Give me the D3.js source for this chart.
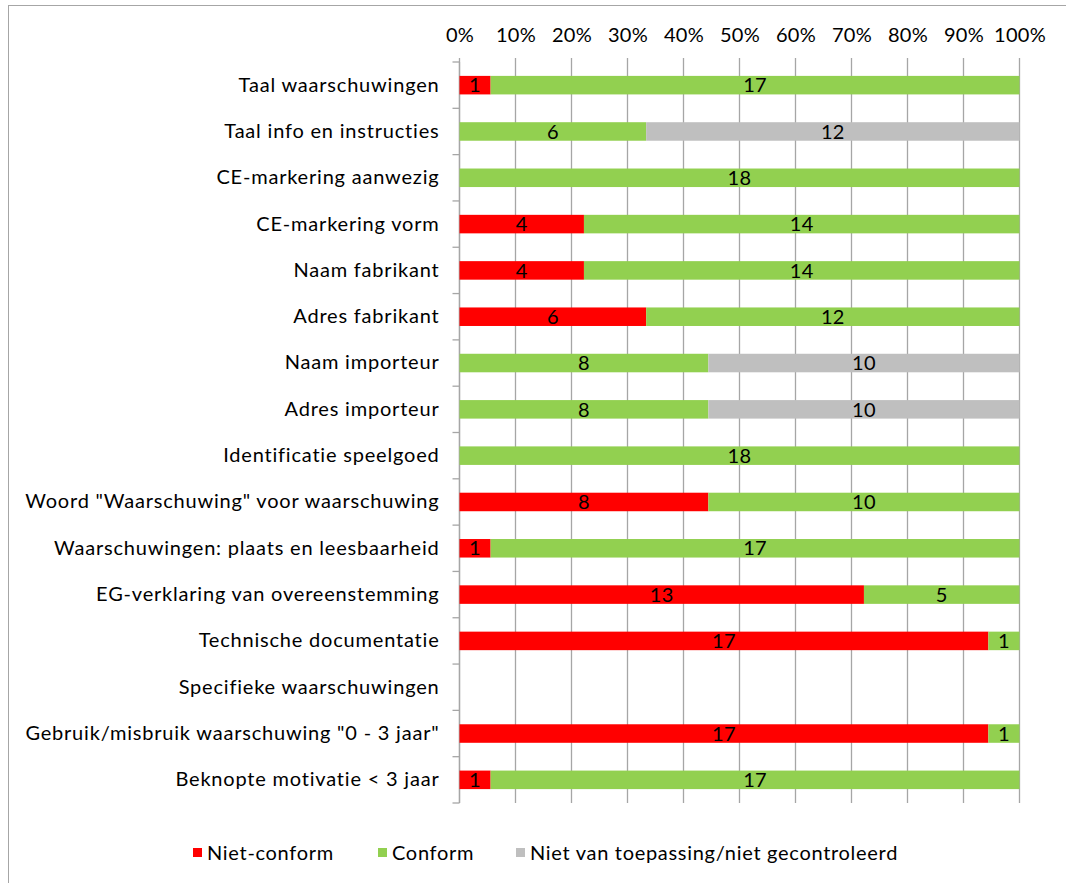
<!DOCTYPE html>
<html><head><meta charset="utf-8">
<script src="https://cdn.jsdelivr.net/npm/d3@7"></script>
<style>body{margin:0;background:#fff;}svg{display:block;font-family:Lato,"Open Sans",sans-serif;}</style>
</head><body>
<svg id="c" width="1066" height="883"></svg>
<script>
const categories = ["Taal waarschuwingen","Taal info en instructies","CE-markering aanwezig","CE-markering vorm","Naam fabrikant","Adres fabrikant","Naam importeur","Adres importeur","Identificatie speelgoed","Woord \"Waarschuwing\" voor waarschuwing","Waarschuwingen: plaats en leesbaarheid","EG-verklaring van overeenstemming","Technische documentatie","Specifieke waarschuwingen","Gebruik/misbruik waarschuwing \"0 - 3 jaar\"","Beknopte motivatie < 3 jaar"];
const nietConform = [1,0,0,4,4,6,0,0,0,8,1,13,17,0,17,1];
const conform     = [17,6,18,14,14,12,8,8,18,10,17,5,1,0,1,17];
const nietVanToepassing = [0,12,0,0,0,0,10,10,0,0,0,0,0,0,0,0];
const seriesNames = ["Niet-conform","Conform","Niet van toepassing/niet gecontroleerd"];
const seriesColors = ["#FF0000","#92D050","#BFBFBF"];
const tickValues = [0,0.1,0.2,0.3,0.4,0.5,0.6,0.7,0.8,0.9,1];

const svg = d3.select("#c");
const W=1066,H=883;
const L=459.5,R=1019.5,T=62,B=803;
const fs=20;

svg.append("rect").attr("x",8.5).attr("y",5.5).attr("width",W+20).attr("height",H+20)
  .attr("fill","none").attr("stroke","#a6a6a6").attr("stroke-width",1);

const x=d3.scaleLinear().domain([0,1]).range([L,R]);
const y=d3.scaleBand().domain(categories).range([T,B]).paddingInner(0.6).paddingOuter(0.3);
const yb=d3.scaleBand().domain(categories).range([T,B]);

// grid
svg.append("g").selectAll("line").data(tickValues).join("line")
  .attr("x1",d=>x(d)).attr("x2",d=>x(d)).attr("y1",T-4).attr("y2",B)
  .attr("stroke","#a6a6a6").attr("stroke-width",1.3);

// top axis labels
const xa=d3.axisTop(x).tickValues(tickValues).tickFormat(d3.format(".0%")).tickSize(0).tickPadding(0);
const gx=svg.append("g").attr("transform",`translate(0,42)`).call(xa);
gx.select(".domain").remove();
gx.selectAll("text").attr("font-size",fs).attr("font-family","Lato").attr("fill","#000")
  .attr("dy",0).attr("letter-spacing","0.3px");

// left axis
const ya=d3.axisLeft(yb).tickSize(0).tickPadding(20);
const gy=svg.append("g").attr("transform",`translate(${L},0)`).call(ya);
gy.select(".domain").remove();
gy.selectAll("text").attr("font-size",fs).attr("font-family","Lato").attr("fill","#000").attr("letter-spacing","0.8px");
svg.append("line").attr("x1",L).attr("x2",L).attr("y1",T).attr("y2",B).attr("stroke","#a6a6a6").attr("stroke-width",1.3);
const bounds=categories.map(c=>yb(c)).concat([B]);
svg.append("g").selectAll("line").data(bounds).join("line")
  .attr("x1",L-7).attr("x2",L).attr("y1",d=>d).attr("y2",d=>d).attr("stroke","#a6a6a6").attr("stroke-width",1.3);

// stacked data
const rows=categories.map((c,i)=>({cat:c,a:nietConform[i],b:conform[i],c:nietVanToepassing[i]}));
const stack=d3.stack().keys(["a","b","c"]).offset(d3.stackOffsetExpand);
const stacked=stack(rows);
const g=svg.append("g");
stacked.forEach((s,si)=>{
  const gs=g.append("g").attr("fill",seriesColors[si]);
  gs.selectAll("rect").data(s.filter(d=>d.data[s.key]>0)).join("rect")
    .attr("x",d=>x(d[0])).attr("width",d=>x(d[1])-x(d[0]))
    .attr("y",d=>y(d.data.cat)).attr("height",y.bandwidth());
});
stacked.forEach((s,si)=>{
  g.append("g").selectAll("text").data(s.filter(d=>d.data[s.key]>0)).join("text")
    .attr("x",d=>(x(d[0])+x(d[1]))/2).attr("y",d=>y(d.data.cat)+y.bandwidth()/2)
    .attr("dy","0.36em").attr("text-anchor","middle").attr("font-size",fs).attr("fill","#000")
    .attr("letter-spacing","0.3px")
    .text(d=>d.data[s.key]);
});

// legend
const legX=[193,378,516];
const lg=svg.append("g");
seriesNames.forEach((n,i)=>{
  lg.append("rect").attr("x",legX[i]).attr("y",848).attr("width",9).attr("height",9).attr("fill",seriesColors[i]);
  lg.append("text").attr("x",legX[i]+14).attr("y",853).attr("dy","0.36em").attr("font-size",fs).attr("fill","#000")
    .attr("letter-spacing","0.7px").text(n);
});
</script>
</body></html>
